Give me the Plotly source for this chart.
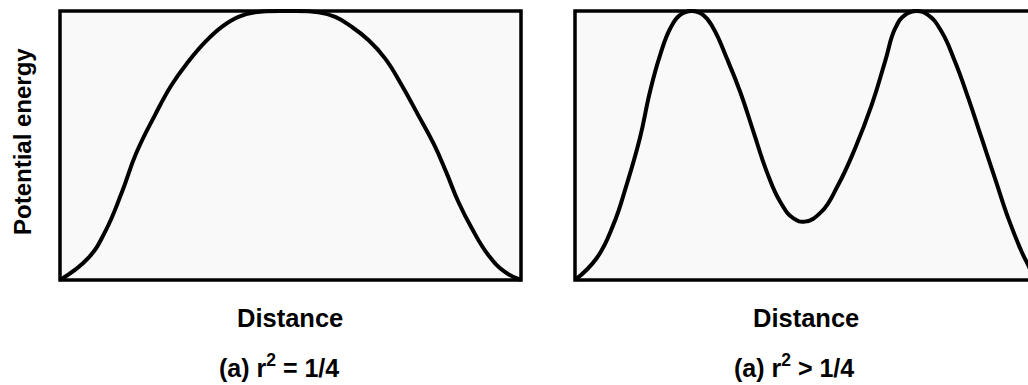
import plotly.graph_objects as go

# Panel (a): single flat-topped barrier, r^2 = 1/4
dist_a = [0.0, 0.061, 0.098, 0.134, 0.165, 0.206, 0.242, 0.278, 0.315, 0.351, 0.387,
          0.423, 0.5, 0.56, 0.597, 0.633, 0.669, 0.705, 0.741, 0.777, 0.811, 0.838,
          0.864, 0.893, 0.929, 0.965, 1.0]
energy_a = [0.0, 0.081, 0.18, 0.325, 0.47, 0.613, 0.725, 0.811, 0.885, 0.941, 0.978,
            0.995, 1.0, 0.995, 0.978, 0.941, 0.892, 0.824, 0.725, 0.613, 0.505, 0.40,
            0.291, 0.193, 0.093, 0.03, 0.0]

# Panel (b): double barrier with a well in the middle, r^2 > 1/4
dist_b = [0.0, 0.047, 0.083, 0.112, 0.141, 0.163, 0.185, 0.207, 0.228, 0.254, 0.279,
          0.301, 0.33, 0.359, 0.388, 0.417, 0.446, 0.475, 0.5, 0.536, 0.572, 0.609,
          0.645, 0.674, 0.696, 0.717, 0.743, 0.768, 0.797, 0.826, 0.855, 0.884,
          0.913, 0.942, 0.971, 0.985, 1.0]
energy_b = [0.0, 0.081, 0.204, 0.353, 0.527, 0.7, 0.836, 0.935, 0.985, 1.0, 0.985,
            0.935, 0.824, 0.7, 0.551, 0.402, 0.291, 0.229, 0.217, 0.254, 0.353, 0.49,
            0.651, 0.812, 0.935, 0.985, 1.0, 0.985, 0.923, 0.812, 0.676, 0.527,
            0.378, 0.229, 0.105, 0.056, 0.0]

y_title = "Potential energy"
x_title = "Distance"
captions = ["(a) r<sup>2</sup> = 1/4", "(a) r<sup>2</sup> > 1/4"]

W, H = 1028, 385
FONT = "Liberation Sans, Arial, sans-serif"

# pixel geometry of the two framed panels
box_a = (60, 521)
box_b = (575, 1035)
box_top, box_bot = 11, 280
pad = 7


def px(x):
    return x / W


def py(y):
    return 1 - y / H


curve_line = dict(color="black", width=4, shape="spline", smoothing=1.3)
fig = go.Figure()
fig.add_trace(go.Scatter(x=dist_a, y=energy_a, mode="lines", line=curve_line,
                         xaxis="x", yaxis="y", showlegend=False, hoverinfo="skip"))
fig.add_trace(go.Scatter(x=dist_b, y=energy_b, mode="lines", line=curve_line,
                         xaxis="x2", yaxis="y2", showlegend=False, hoverinfo="skip"))

unit_y = box_bot - box_top
y_rng = [-pad / unit_y, 1 + pad / unit_y]
y_dom = [py(box_bot + pad), py(box_top - pad)]

wa = box_a[1] - box_a[0]
wb = box_b[1] - box_b[0]
hidden = dict(showgrid=False, zeroline=False, showticklabels=False, ticks="", showline=False, fixedrange=True)

fig.update_layout(
    width=W, height=H,
    margin=dict(l=0, r=0, t=0, b=0),
    paper_bgcolor="white", plot_bgcolor="rgba(0,0,0,0)",
    xaxis=dict(domain=[px(box_a[0] - pad), px(box_a[1] + pad)], range=[-pad / wa, 1 + pad / wa], **hidden),
    yaxis=dict(domain=y_dom, range=y_rng, **hidden),
    xaxis2=dict(domain=[px(box_b[0] - pad), 1.0], range=[-pad / wb, (W - box_b[0]) / wb], anchor="y2", **hidden),
    yaxis2=dict(domain=y_dom, range=y_rng, anchor="x2", **hidden),
)

# panel frames with a faint grey fill
for (x0, x1) in (box_a, box_b):
    fig.add_shape(type="rect", xref="paper", yref="paper",
                  x0=px(x0), x1=px(x1), y0=py(box_bot), y1=py(box_top),
                  line=dict(color="black", width=3.5), fillcolor="#f9f9f9", layer="below")

ann = dict(xref="paper", yref="paper", xanchor="center", yanchor="middle", showarrow=False)
fig.add_annotation(text="<b>%s</b>" % y_title, x=px(22), y=py(142), textangle=-90,
                   font=dict(family=FONT, size=24, color="black"), **ann)
for cx in (290, 806):
    fig.add_annotation(text="<b>%s</b>" % x_title, x=px(cx), y=py(318),
                       font=dict(family=FONT, size=25.5, color="black"), **ann)
for cx, cap in zip((279, 794), captions):
    fig.add_annotation(text="<b>%s</b>" % cap, x=px(cx), y=py(366),
                       font=dict(family=FONT, size=25, color="black"), **ann)

fig.write_html("out.html")
